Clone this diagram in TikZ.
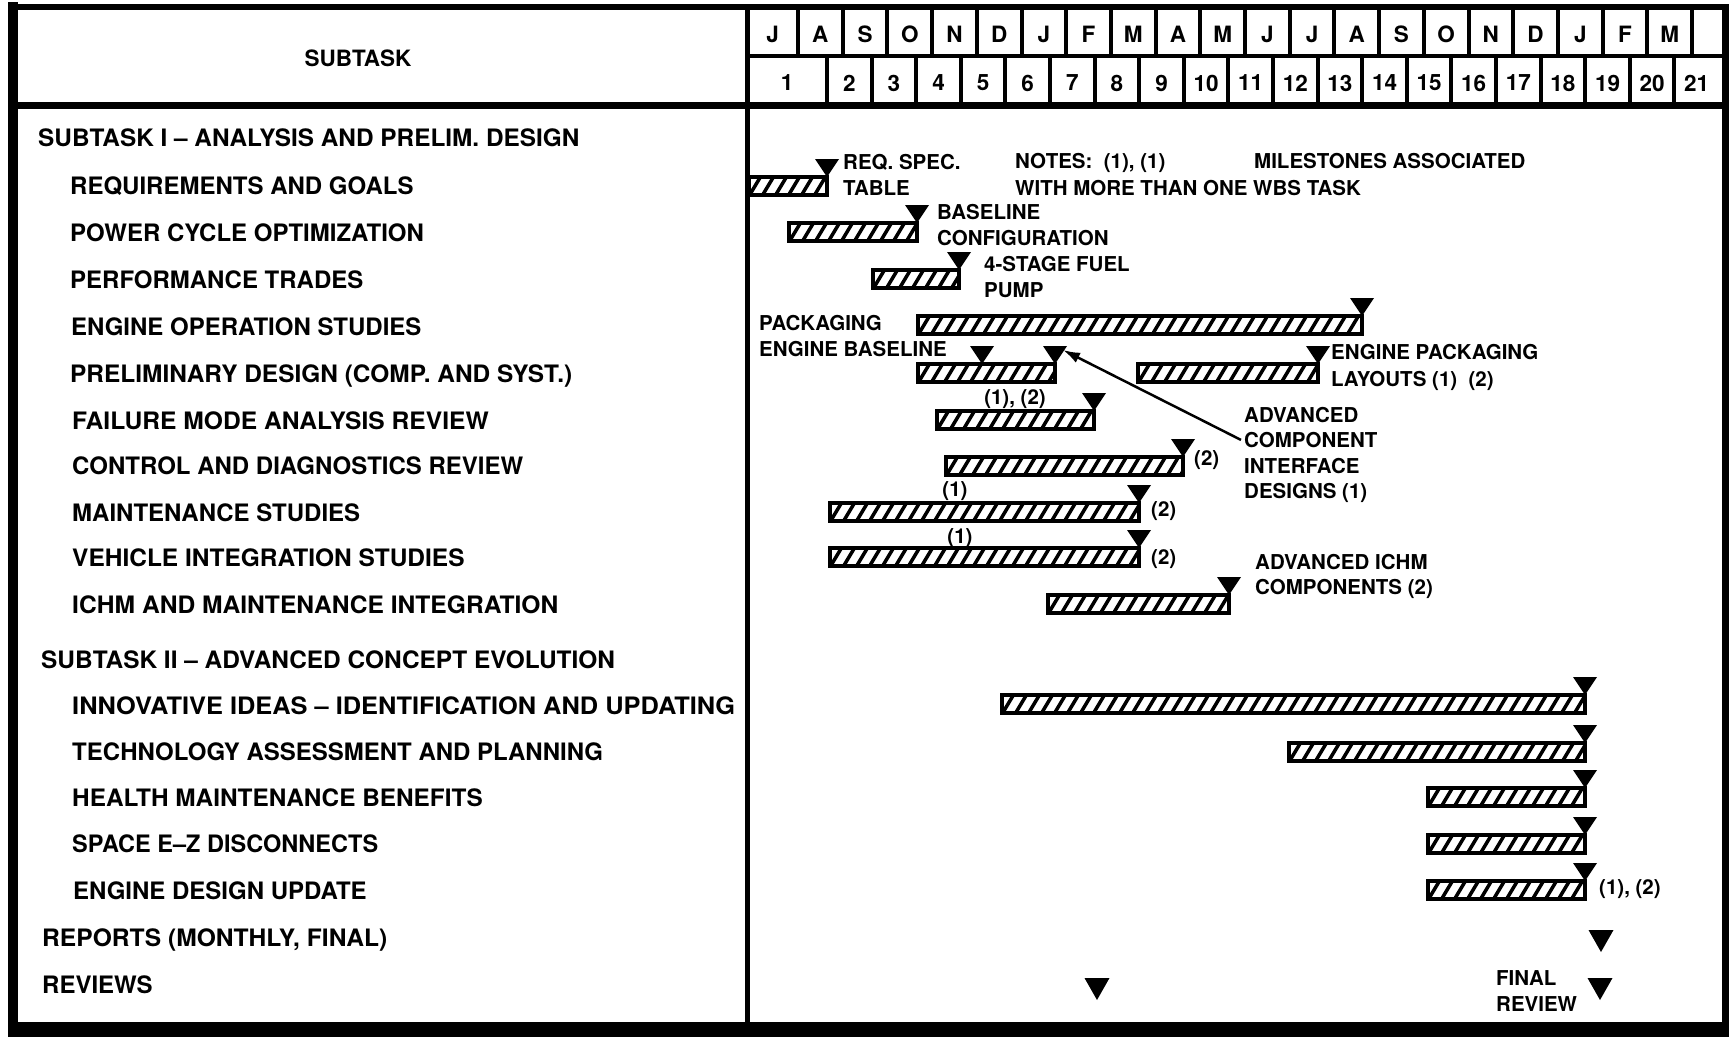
\documentclass[tikz,border=0pt]{standalone}
\usepackage{fontspec}
\setmainfont{TeX Gyre Heros}
\usetikzlibrary{arrows.meta,calc}

\newcommand{\taskfont}{\fontsize{24}{28}\selectfont\bfseries}
\newcommand{\notefont}{\fontsize{20.5}{24}\selectfont\bfseries}
\newcommand{\hdrfont}{\fontsize{22.5}{26}\selectfont\bfseries}

\tikzset{
  task/.style={anchor=base west, inner sep=0pt, font=\taskfont, yshift=-8.6pt},
  note/.style={anchor=base west, inner sep=0pt, font=\notefont, yshift=-7.4pt},
  notec/.style={anchor=base, inner sep=0pt, font=\notefont, yshift=-7.4pt},
  hdr/.style={inner sep=0pt, font=\hdrfont},
  gridline/.style={line width=4pt},
  hatch/.style={line width=3.5pt},
  barframe/.style={line width=3.2pt},
  pointer/.style={line width=2.5pt, -{Latex[length=17pt,width=11pt]}},
}

\newcommand{\ganttbar}[4]{%
  \begin{scope}
    \clip (#2,#4-9) rectangle (#3,#4+9);
    \pgfmathtruncatemacro{\nh}{(#3-#2)/13+1}
    \foreach \k in {0,...,\nh}
      \draw[hatch] ({#2-13+13*\k},#4+10) -- ++(12,-20);
  \end{scope}
  \draw[barframe] (#2,#4-9) rectangle (#3,#4+9);
}
\newcommand{\milestone}[3]{%
  \fill (#2,#3) -- ++(-12,-18) -- ++(24,0) -- cycle;
  \coordinate (#1) at (#2,#3);
}
\newcommand{\bigmilestone}[3]{%
  \fill (#2,#3) -- ++(-12.5,-22) -- ++(25,0) -- cycle;
  \coordinate (#1) at (#2,#3);
}

\begin{document}
\begin{tikzpicture}[x=1pt,y=-1pt]
\useasboundingbox (0,0) rectangle (1733,1037);
\fill[white] (0,0) rectangle (1733,1037);

\draw[line width=6pt] (8,7) -- (1728,7);
\draw[line width=10pt] (13,2) -- (13,1037);
\draw[line width=7pt] (1725,4) -- (1725,1030);
\fill (8,1022) rectangle (1729,1037);
\draw[line width=7pt] (13,105) -- (1725,105);
\draw[line width=5pt] (747,7) -- (747,1025);
\draw[gridline] (747,56) -- (1725,56);
\foreach \k in {0,...,20}
  \draw[gridline] ({798+44.7*\k},7) -- ({798+44.7*\k},56);
\foreach \k in {0,...,19}
  \draw[gridline] ({827+44.6*\k},56) -- ({827+44.6*\k},105);

\node[hdr] (head) at (358,58) {SUBTASK};
\node[hdr] (mon0) at (772.5,34) {J};
\foreach \m [count=\i] in {A,S,O,N,D,J,F,M,A,M,J,J,A,S,O,N,D,J,F,M}
  \node[hdr] (mon\i) at ({798+44.7*(\i-1)+22.35},34) {\m};
\node[hdr] (num1) at (787,83) {1};
\foreach \i in {2,...,21}
  \node[hdr] (num\i) at ({827+44.6*(\i-2)+22.3},83) {\i};

\node[task] (sub1) at (38,138) {\scalebox{1.015}[1]{SUBTASK I – ANALYSIS AND PRELIM. DESIGN}};
\node[task] (req) at (70,186) {REQUIREMENTS AND GOALS};
\node[task] (pow) at (70,233) {POWER CYCLE OPTIMIZATION};
\node[task] (perf) at (70,280) {PERFORMANCE TRADES};
\node[task] (eop) at (71,327) {ENGINE OPERATION STUDIES};
\node[task] (pre) at (70,374) {\scalebox{1.018}[1]{PRELIMINARY DESIGN (COMP. AND SYST.)}};
\node[task] (fail) at (72,421) {\scalebox{1.025}[1]{FAILURE MODE ANALYSIS REVIEW}};
\node[task] (ctrl) at (72,466) {CONTROL AND DIAGNOSTICS REVIEW};
\node[task] (maint) at (72,513) {MAINTENANCE STUDIES};
\node[task] (veh) at (72,558) {\scalebox{1.02}[1]{VEHICLE INTEGRATION STUDIES}};
\node[task] (ichm) at (72,605) {\scalebox{1.025}[1]{ICHM AND MAINTENANCE INTEGRATION}};
\node[task] (sub2) at (41,660) {\scalebox{1.018}[1]{SUBTASK II – ADVANCED CONCEPT EVOLUTION}};
\node[task] (inno) at (72,706) {\scalebox{1.058}[1]{INNOVATIVE IDEAS – IDENTIFICATION AND UPDATING}};
\node[task] (tech) at (72,752) {TECHNOLOGY ASSESSMENT AND PLANNING};
\node[task] (health) at (72,798) {\scalebox{1.015}[1]{HEALTH MAINTENANCE BENEFITS}};
\node[task] (space) at (72,844) {\scalebox{0.98}[1]{SPACE E–Z DISCONNECTS}};
\node[task] (edu) at (73,891) {ENGINE DESIGN UPDATE};
\node[task] (rep) at (42,938) {\scalebox{1.025}[1]{REPORTS (MONTHLY, FINAL)}};
\node[task] (rev) at (42,985) {REVIEWS};

\ganttbar{breq}{749}{827}{186}
\ganttbar{bpow}{789}{917}{232}
\ganttbar{bperf}{873}{959}{279}
\ganttbar{beop}{918}{1362}{325}
\ganttbar{bprea}{918}{1055}{373}
\ganttbar{bpreb}{1138}{1318}{373}
\ganttbar{bfail}{937}{1094}{420}
\ganttbar{bctrl}{946}{1183}{466}
\ganttbar{bmaint}{830}{1139}{512}
\ganttbar{bveh}{830}{1139}{557}
\ganttbar{bichm}{1048}{1229}{604}
\ganttbar{binno}{1002}{1585}{704}
\ganttbar{btech}{1289}{1585}{752}
\ganttbar{bhealth}{1428}{1585}{797}
\ganttbar{bspace}{1428}{1585}{844}
\ganttbar{bedu}{1428}{1585}{890}

\milestone{mreq}{827}{177}
\milestone{mpow}{917}{223}
\milestone{mperf}{959}{270}
\milestone{meop}{1362}{316}
\milestone{mprea}{982}{364}
\milestone{mpreb}{1055}{364}
\milestone{mprec}{1318}{364}
\milestone{mfail}{1094}{411}
\milestone{mctrl}{1183}{457}
\milestone{mmaint}{1139}{503}
\milestone{mveh}{1139}{548}
\milestone{michm}{1229}{595}
\milestone{minno}{1585}{695}
\milestone{mtech}{1585}{743}
\milestone{mhealth}{1585}{788}
\milestone{mspace}{1585}{835}
\milestone{medu}{1585}{881}
\bigmilestone{mrep}{1601}{952}
\bigmilestone{mrev}{1097}{1000}
\bigmilestone{mfinal}{1600}{1000}

\node[note] (reqspec) at (843,162) {REQ. SPEC.};
\node[note] (table) at (843,188) {TABLE};
\node[note] (notes) at (1015,161) {NOTES:\ \ (1), (1)};
\node[note] (assoc) at (1254,161) {MILESTONES ASSOCIATED};
\node[note] (wbs) at (1015,188) {WITH MORE THAN ONE WBS TASK};
\node[note] (base) at (937,212) {BASELINE};
\node[note] (config) at (937,238) {CONFIGURATION};
\node[note] (fuel) at (984,264) {4-STAGE FUEL};
\node[note] (pump) at (984,290) {PUMP};
\node[note] (pack) at (759,323) {PACKAGING};
\node[note] (engbase) at (759,349) {ENGINE BASELINE};
\node[note] (engpack) at (1331,352) {ENGINE PACKAGING};
\node[note] (layouts) at (1331,379) {LAYOUTS (1)\ \ (2)};
\node[notec] (fail12) at (1015,397) {(1), (2)};
\node[note] (acadv) at (1244,415) {ADVANCED};
\node[note] (accomp) at (1244,440) {COMPONENT};
\node[note] (acint) at (1244,466) {INTERFACE};
\node[note] (acdes) at (1244,491) {DESIGNS (1)};
\node[note] (ctrl2) at (1194,458) {(2)};
\node[notec] (maint1) at (955,489) {(1)};
\node[note] (maint2) at (1151,509) {(2)};
\node[notec] (veh1) at (960,536) {(1)};
\node[note] (veh2) at (1151,557) {(2)};
\node[note] (ichmadv) at (1255,562) {ADVANCED ICHM};
\node[note] (ichmcomp) at (1255,587) {COMPONENTS (2)};
\node[note] (edu12) at (1599,887) {(1), (2)};
\node[note] (final) at (1496,978) {FINAL};
\node[note] (review) at (1496,1004) {REVIEW};

\draw[pointer] ($(accomp.west)+(-3,0)$) -- ($(mpreb)+(8,-14)$);
\end{tikzpicture}
\end{document}
